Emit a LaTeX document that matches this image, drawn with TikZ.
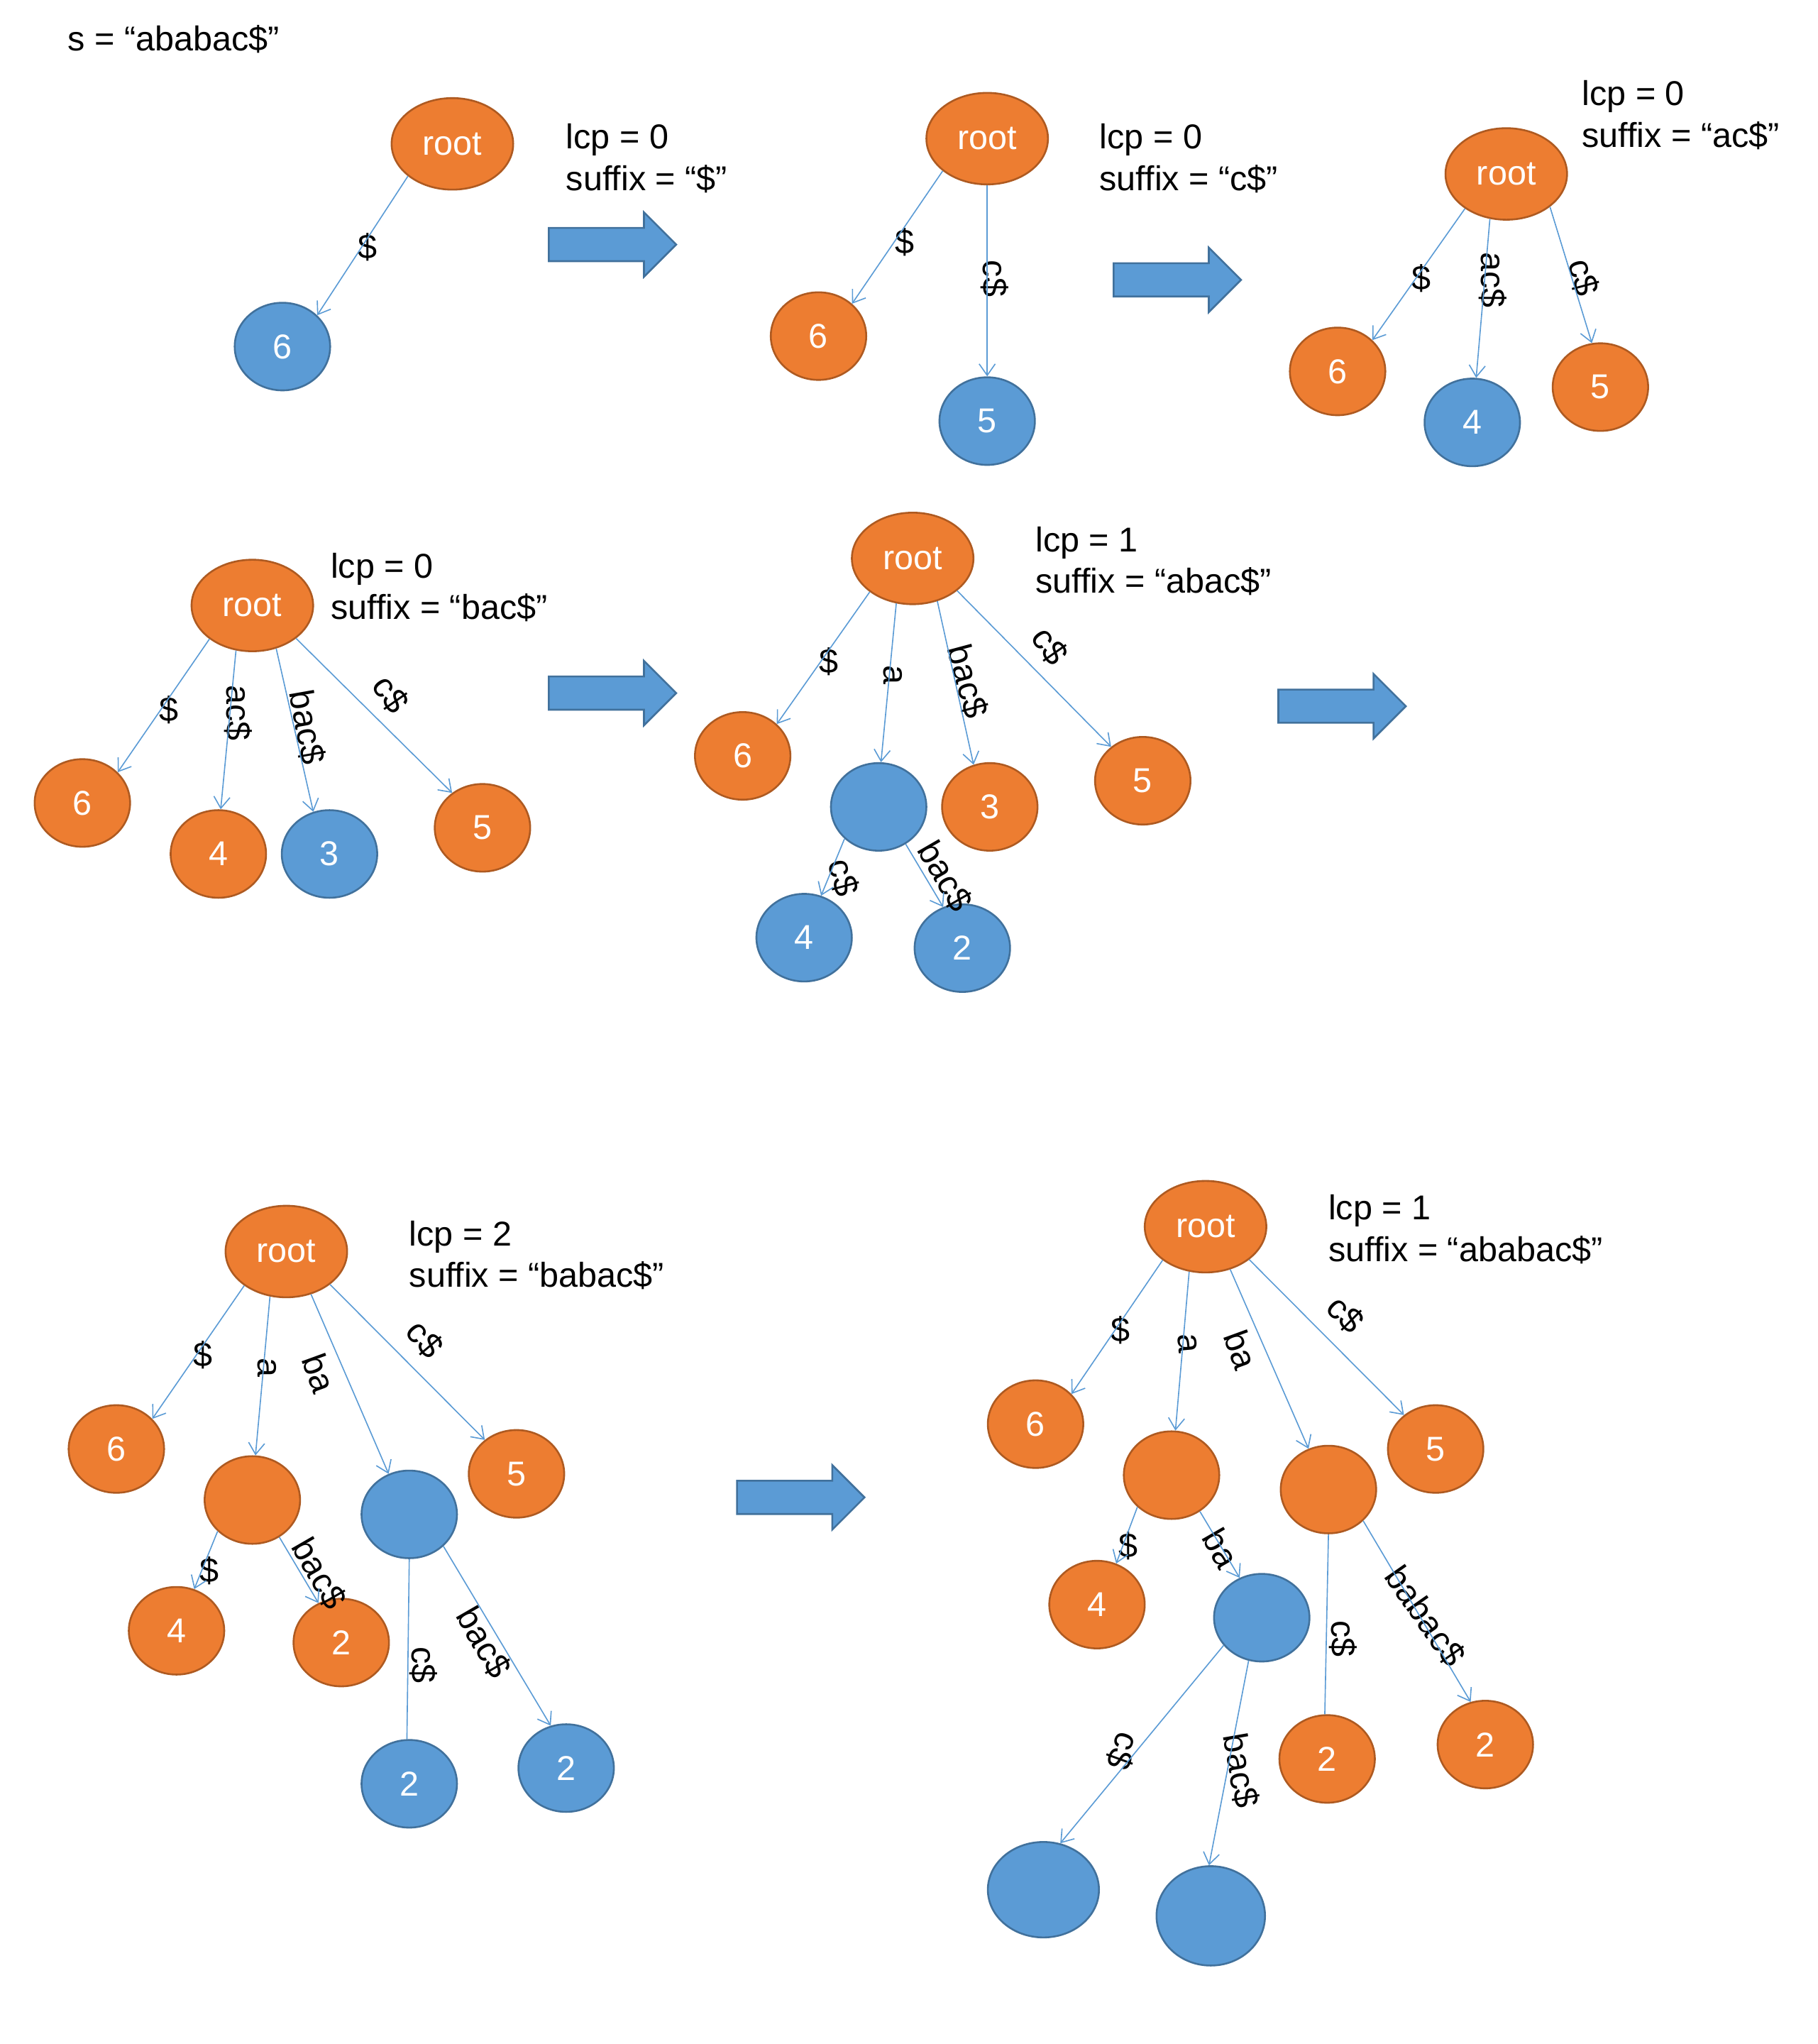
\documentclass[tikz,border=0pt]{standalone}
\usepackage{fontspec}
\setmainfont{Liberation Sans}
\usepackage{tikz}
\usetikzlibrary{shapes.geometric}
\usetikzlibrary{shapes.arrows}
\usetikzlibrary{arrows.meta}
\definecolor{orangefill}{HTML}{ED7D31}
\definecolor{orangeedge}{HTML}{AE5A21}
\definecolor{bluefill}{HTML}{5B9BD5}
\definecolor{blueedge}{HTML}{41719C}

\begin{document}
\begin{tikzpicture}
[x=0.02cm,y=-0.02cm,font=\fontsize{15}{18}\selectfont,
  empt node/.style={inner sep=0pt,outer sep=0pt},
  info node/.style={inner sep=0pt,outer sep=0pt,align=left,anchor=west},
  orange node/.style={ellipse,draw=orangeedge,fill=orangefill,line
    width=0.8pt,text=white,inner sep=0pt,minimum width=1.46cm,minimum
    height=1.34cm},
  blue node/.style={orange node,draw=blueedge,fill=bluefill},
  root node/.style={orange node,minimum width=1.86cm,minimum height=1.4cm},
  tree edge/.style={draw=bluefill,line width=0.5pt,-{Straight
      Barb[length=5pt,width=7pt]}},
  bare edge/.style={draw=bluefill,line width=0.5pt},
  block arrow/.style={single arrow,draw=blueedge,fill=bluefill,line
    width=0.8pt,minimum height=1.95cm,inner xsep=0pt,inner ysep=0.24cm,
    single arrow head extend=0.24cm,anchor=tail}]

    \useasboundingbox (0,0) rectangle (1390,1563);

    \node [empt node,anchor=west] (title) at (52,30) {s = “ababac\$”};

    % step 1
    \node [root node] (t1root) at (346,110) {root};
    \node [blue node] (t1n6) at (216,265) {6};
    \node [empt node] (t1l1) at (281,189) {\$};
    \node [info node] (t1info) at (433,121) {lcp = 0\\suffix = “\$”};
    \node [block arrow] (arr1) at (419,187) {};
    \draw[tree edge] (t1root.216) -- (t1n6.42);

    % step 2
    \node [root node] (t2root) at (755,106) {root};
    \node [orange node] (t2n6) at (626,257) {6};
    \node [blue node] (t2n5) at (755,322) {5};
    \node [empt node] (t2l1) at (692,185) {\$};
    \node [empt node,rotate=-90] (t2l2) at (761,213) {c\$};
    \node [info node] (t2info) at (841,121) {lcp = 0\\suffix = “c\$”};
    \node [block arrow] (arr2) at (851,214) {};
    \draw[tree edge] (t2root.216) -- (t2n6.44);
    \draw[tree edge] (t2root.270) -- (t2n5.90);

    % step 3
    \node [root node] (t3root) at (1152,133) {root};
    \node [orange node] (t3n6) at (1023,284) {6};
    \node [blue node] (t3n4) at (1126,323) {4};
    \node [orange node] (t3n5) at (1224,296) {5};
    \node [empt node] (t3l1) at (1087,213) {\$};
    \node [empt node,rotate=-90] (t3l2) at (1142,214) {ac\$};
    \node [empt node,rotate=-75] (t3l3) at (1211,212) {c\$};
    \node [info node] (t3info) at (1210,88) {lcp = 0\\suffix = “ac\$”};
    \draw[tree edge] (t3root.220) -- (t3n6.42);
    \draw[tree edge] (t3root.250) -- (t3n4.85);
    \draw[tree edge] (t3root.323) -- (t3n5.101);

    % step 4
    \node [root node] (t4root) at (193,463) {root};
    \node [orange node] (t4n6) at (63,614) {6};
    \node [orange node] (t4n4) at (167,653) {4};
    \node [blue node] (t4n3) at (252,653) {3};
    \node [orange node] (t4n5) at (369,633) {5};
    \node [empt node] (t4l1) at (129,543) {\$};
    \node [empt node,rotate=-90] (t4l2) at (182,545) {ac\$};
    \node [empt node,rotate=-80] (t4l3) at (235,556) {bac\$};
    \node [empt node,rotate=-55] (t4l4) at (299,531) {c\$};
    \node [info node] (t4info) at (253,449) {lcp = 0\\suffix = “bac\$”};
    \node [block arrow] (arr3) at (419,530) {};
    \draw[tree edge] (t4root.218) -- (t4n6.41);
    \draw[tree edge] (t4root.250) -- (t4n4.87);
    \draw[tree edge] (t4root.299) -- (t4n3.111);
    \draw[tree edge] (t4root.323) -- (t4n5.131);

    % step 5
    \node [root node] (t5root) at (698,427) {root};
    \node [orange node] (t5n6) at (568,578) {6};
    \node [blue node] (t5a) at (672,617) {};
    \node [orange node] (t5n3) at (757,617) {3};
    \node [orange node] (t5n5) at (874,597) {5};
    \node [blue node] (t5n4) at (615,717) {4};
    \node [blue node] (t5n2) at (736,725) {2};
    \node [empt node] (t5l1) at (634,506) {\$};
    \node [empt node,rotate=-90] (t5l2) at (683,516) {a};
    \node [empt node,rotate=-75] (t5l3) at (740,521) {bac\$};
    \node [empt node,rotate=-55] (t5l4) at (803,494) {c\$};
    \node [empt node,rotate=-75] (t5l5) at (645,671) {c\$};
    \node [empt node,rotate=-60] (t5l6) at (723,670) {bac\$};
    \node [info node] (t5info) at (792,429) {lcp = 1\\suffix = “abac\$”};
    \node [block arrow] (arr4) at (977,540) {};
    \draw[tree edge] (t5root.218) -- (t5n6.43);
    \draw[tree edge] (t5root.250) -- (t5a.87);
    \draw[tree edge] (t5root.300) -- (t5n3.111);
    \draw[tree edge] (t5root.324) -- (t5n5.133);
    \draw[tree edge] (t5a.223) -- (t5n4.68);
    \draw[tree edge] (t5a.306) -- (t5n2.115);

    % step 6
    \node [root node] (t6root) at (219,957) {root};
    \node [orange node] (t6n6) at (89,1108) {6};
    \node [orange node] (t6a) at (193,1147) {};
    \node [blue node] (t6ba) at (313,1158) {};
    \node [orange node] (t6n5) at (395,1127) {5};
    \node [orange node] (t6n4) at (135,1247) {4};
    \node [orange node] (t6n2) at (261,1256) {2};
    \node [blue node] (t6n2b) at (313,1364) {2};
    \node [blue node] (t6n2c) at (433,1352) {2};
    \node [empt node] (t6l1) at (155,1036) {\$};
    \node [empt node,rotate=-90] (t6l2) at (204,1046) {a};
    \node [empt node,rotate=-70] (t6l3) at (244,1050) {ba};
    \node [empt node,rotate=-50] (t6l4) at (325,1024) {c\$};
    \node [empt node] (t6l5) at (160,1201) {\$};
    \node [empt node,rotate=-60] (t6l6) at (244,1203) {bac\$};
    \node [empt node,rotate=-90] (t6l7) at (324,1273) {c\$};
    \node [empt node,rotate=-60] (t6l8) at (370,1256) {bac\$};
    \node [info node] (t6info) at (313,960) {lcp = 2\\suffix = “babac\$”};
    \node [block arrow] (arr5) at (563,1145) {};
    \draw[tree edge] (t6root.219) -- (t6n6.40);
    \draw[tree edge] (t6root.250) -- (t6a.86);
    \draw[tree edge] (t6root.300) -- (t6ba.117);
    \draw[tree edge] (t6root.323) -- (t6n5.133);
    \draw[tree edge] (t6a.222) -- (t6n4.67);
    \draw[tree edge] (t6a.306) -- (t6n2.120);
    \draw[bare edge] (t6ba.270) -- (t6n2b.93);
    \draw[tree edge] (t6ba.317) -- (t6n2c.110);

    % step 7
    \node [root node] (t7root) at (922,938) {root};
    \node [orange node] (t7n6) at (792,1089) {6};
    \node [orange node] (t7a) at (896,1128) {};
    \node [orange node] (t7ba) at (1016,1139) {};
    \node [orange node] (t7n5) at (1098,1108) {5};
    \node [orange node] (t7n4) at (839,1227) {4};
    \node [blue node] (t7c) at (965,1237) {};
    \node [orange node] (t7n2) at (1015,1345) {2};
    \node [orange node] (t7n2b) at (1136,1334) {2};
    \node [blue node,minimum width=1.7cm,minimum height=1.46cm] (t7x) at (798,1445) {};
    \node [blue node,minimum width=1.66cm,minimum height=1.52cm] (t7y) at (926,1465) {};
    \node [empt node] (t7l1) at (857,1017) {\$};
    \node [empt node,rotate=-85] (t7l2) at (908,1027) {a};
    \node [empt node,rotate=-70] (t7l3) at (949,1032) {ba};
    \node [empt node,rotate=-45] (t7l4) at (1029,1005) {c\$};
    \node [empt node] (t7l5) at (863,1182) {\$};
    \node [empt node,rotate=-60] (t7l6) at (934,1184) {ba};
    \node [empt node,rotate=-90] (t7l7) at (1027,1253) {c\$};
    \node [empt node,rotate=-55] (t7l8) at (1090,1236) {babac\$};
    \node [empt node,rotate=-110] (t7l9) at (859,1339) {c\$};
    \node [empt node,rotate=-80] (t7l10) at (949,1354) {bac\$};
    \node [info node] (t7info) at (1016,940) {lcp = 1\\suffix = “ababac\$”};
    \draw[tree edge] (t7root.218) -- (t7n6.40);
    \draw[tree edge] (t7root.250) -- (t7a.85);
    \draw[tree edge] (t7root.300) -- (t7ba.116);
    \draw[tree edge] (t7root.323) -- (t7n5.133);
    \draw[tree edge] (t7a.223) -- (t7n4.65);
    \draw[tree edge] (t7a.308) -- (t7c.119);
    \draw[bare edge] (t7ba.270) -- (t7n2.93);
    \draw[tree edge] (t7ba.318) -- (t7n2b.109);
    \draw[tree edge] (t7c.216) -- (t7x.70);
    \draw[tree edge] (t7c.253) -- (t7y.92);
\end{tikzpicture}
\end{document}
